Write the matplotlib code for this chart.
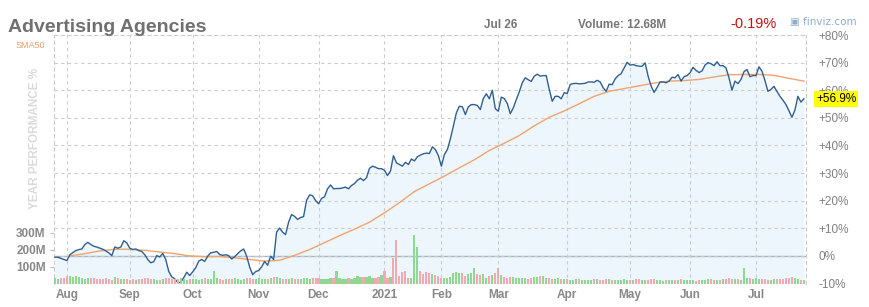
import numpy as np
import pandas as pd
import matplotlib
matplotlib.use("Agg")
import matplotlib.pyplot as plt
import matplotlib.transforms as mtransforms

plt.rcParams['font.family'] = ['Liberation Sans', 'DejaVu Sans']

# trading days shown (Jul 28 2020 - Jul 26 2021)
holidays = ["2020-09-07", "2020-11-26", "2020-12-25", "2021-01-01", "2021-01-18",
            "2021-02-15", "2021-04-02", "2021-05-31", "2021-07-05"]
dates = pd.bdate_range("2020-07-28", "2021-07-26")
dates = dates[~dates.isin(pd.to_datetime(holidays))]

# year performance in %, one value per trading day
perf = [
    -0.5, -0.5, -0.9, -1.3,                                             # Jul
    -1.7, 0.4, 1.2, 1.9, 2.3, 2.5, 4.1, 4.9, 4.1, 3.5,                  # Aug
    3.2, 2.8, 2.4, 1.8, 1.1, 0.1, 3.2, 2.8, 3.2, 5.5, 4.7,
    2.8, 2.3, 2.5, 1.9, 1.6, 0.4, -1.3, -2.5, -2.1, 0.1,                # Sep
    -0.4, 0.9, -1.3, -5.6, -7.6, -8.3, -9.6, -9.6, -7.9, -5.9, -7.1,
    -5.8, -4.3, -1.9, -1.3, -2.0, -0.1, 1.1, 1.3, 1.6, 0.5,             # Oct
    0.2, 0.4, 0.1, -1.1, -0.3, 0.8, 1.8, 2.5, -0.1, -4.0, -6.8, -5.7,
    -5.3, -4.0, -2.0, -3.4, -0.1, -1.3, 8.6, 10.1, 8.6, 7.7,            # Nov
    12.2, 15.0, 14.3, 13.2, 13.9, 14.2, 20.1, 22.1, 21.8, 20.1,
    18.9, 20.8, 21.4, 24.3, 25.7, 24.3, 24.4, 24.4, 24.6, 24.9, 24.3,   # Dec
    25.5, 26.2, 27.4, 28.1, 27.3, 28.3, 31.7, 32.5, 32.1, 31.6, 31.6,
    31.0, 29.1, 30.7, 36.3, 33.7, 33.1, 32.5, 33.9, 33.1, 35.1,         # Jan
    34.4, 35.9, 36.5, 37.0, 37.2, 37.1, 39.5, 38.5, 36.3,
    32.5, 36.7, 38.5, 42.4, 47.0, 51.8, 54.2, 54.0, 51.2, 54.0,         # Feb
    54.8, 54.8, 54.5, 53.0, 57.0, 58.7, 56.9, 60.0, 53.3,
    52.4, 57.5, 57.0, 55.2, 51.5, 53.6, 56.6, 59.4, 62.7, 64.5, 63.8,   # Mar
    63.2, 65.1, 65.8, 65.1, 65.3, 65.3, 60.3, 56.0, 57.8, 57.8, 56.9, 59.1,
    58.8, 62.1, 62.4, 62.5, 62.3, 62.4, 62.5, 63.0, 63.0, 62.9, 63.6,   # Apr
    63.0, 60.9, 59.6, 62.2, 62.0, 64.1, 65.3, 66.0, 68.1, 70.1,
    69.1, 69.3, 68.9, 68.7, 68.7, 69.9, 65.1, 61.5, 59.2, 61.0,         # May
    63.0, 63.0, 62.7, 63.3, 64.7, 64.5, 65.7, 63.3, 64.9, 65.3,
    66.3, 68.3, 67.2, 66.4, 67.0, 69.1, 70.0, 69.6, 68.9, 70.3, 68.9,   # Jun
    68.9, 68.1, 64.5, 60.0, 63.3, 62.4, 63.9, 66.7, 67.5, 64.9, 65.3,
    65.3, 68.5, 66.9, 63.5, 59.6, 60.3, 61.4, 59.6, 57.8, 56.4, 54.8,   # Jul
    52.6, 50.2, 52.8, 57.8, 55.7, 56.9,
]

# SMA50 read every 5th trading day, starting with the 6th
sma50 = [0.0, 0.8, 1.8, 2.4, 2.4, 2.0, 1.4, 0.8, 0.0, -0.3,
         -0.2, -0.7, -1.3, -1.9, -1.6, 0.2, 2.3, 4.8, 7.3, 9.7,
         12.2, 15.6, 19.3, 23.3, 26.1, 28.9, 31.9, 34.8, 38.2, 40.8,
         43.6, 47.1, 50.2, 52.5, 55.1, 57.8, 59.6, 60.6, 61.6, 62.6,
         63.3, 63.5, 63.9, 64.8, 65.6, 65.7, 65.7, 65.4, 64.3, 63.3]

# daily volume in millions
volume = [
    30, 28, 32, 35,
    42, 45, 40, 44, 38, 30, 28, 32, 35, 30, 26, 24, 28, 30, 25, 22, 38, 30, 26, 28, 24,
    22, 24, 20, 26, 28, 30, 32, 26, 24, 22, 20, 28, 32, 30, 26, 24, 28, 30, 26, 22, 24,
    28, 24, 22, 26, 30, 24, 26, 75, 30, 24, 22, 26, 28, 24, 30, 26, 22, 28, 32, 30, 26, 28,
    30, 28, 26, 24, 30, 40, 36, 30, 28, 26, 24, 30, 28, 26, 24, 30, 35, 28, 30, 32,
    30, 26, 28, 24, 30, 32, 72, 34, 28, 26, 30, 28, 32, 45, 40, 36, 38, 44, 30, 34, 40, 48,
    72, 30, 40, 152, 260, 42, 70, 72, 30, 35, 286, 218, 75, 57, 67, 60, 55, 50, 45,
    35, 30, 35, 40, 62, 68, 65, 60, 45, 55, 62, 90, 55, 50, 55, 35, 45, 50, 60,
    90, 50, 40, 35, 38, 40, 30, 35, 32, 30, 28, 35, 38, 40, 45, 42, 35, 30, 28, 25, 30, 28, 25,
    25, 22, 20, 24, 28, 22, 20, 18, 22, 25, 24, 20, 22, 26, 24, 20, 22, 18, 20, 24, 22,
    20, 22, 25, 24, 20, 18, 22, 26, 24, 20, 18, 16, 18, 20, 22, 18, 20, 24, 22, 20,
    18, 20, 16, 18, 22, 20, 24, 26, 22, 20, 18, 24, 28, 32, 26, 24, 28, 22, 92, 30, 34, 28,
    30, 26, 24, 28, 22, 20, 24, 26, 28, 24, 30, 35, 38, 32, 28, 22, 20,
]
# days where the bar colour differs from the close-to-close move
bar_dir = {53: 'u', 94: 'u', 110: 'd', 113: 'd', 114: 'd', 116: 'd', 117: 'd',
           120: 'u', 121: 'u', 122: 'd', 123: 'd', 124: 'd', 125: 'd', 127: 'd',
           128: 'd', 140: 'u', 148: 'd', 230: 'u'}

x = np.arange(len(dates))
perf = np.array(perf)
volume = np.array(volume)

up = np.r_[True, np.diff(perf) >= 0]
for k, d in bar_dir.items():
    up[k] = d == 'u'
bar_colors = np.where(up, '#90d890', '#f2aab2')

# month ticks
month_idx = [i for i in range(1, len(dates)) if dates[i].month != dates[i - 1].month]
month_lab = [str(dates[i].year) if dates[i].month == 1 else dates[i].strftime('%b') for i in month_idx]

W, H = 869, 307
fig = plt.figure(figsize=(W / 100, H / 100), dpi=100)
ax = fig.add_axes([54 / W, 23.5 / H, 752 / W, 248.5 / H])
axv = ax.twinx()

grid_kw = dict(color='#cccccc', linestyle=(0, (3, 3)), linewidth=0.8)
ax.fill_between(x, perf, -10, color='#edf6fd', lw=0)
ax.axhline(0, color='#aab4c2', lw=1, zorder=1)
ax.plot(x[5::5], sma50, color='#f0a46c', lw=1, zorder=3)
ax.plot(x, perf, color='#2f5f91', lw=1, zorder=4)

ax.set_xlim(-0.3, len(dates) - 0.3)
ax.set_ylim(-10, 80)
ax.set_yticks(range(-10, 81, 10))
ax.set_yticklabels([f'+{v}%' if v > 0 else f'{v}%' for v in range(-10, 81, 10)])
ax.yaxis.tick_right()
ax.tick_params(axis='y', length=0, pad=9, labelsize=8.5, labelcolor='#808080')
ax.set_xticks(month_idx)
ax.set_xticklabels(month_lab)
ax.tick_params(axis='x', length=0, pad=4, labelsize=8.5, labelcolor='#888888')
for t in ax.get_xticklabels():
    t.set_fontweight('bold')
ax.grid(True, **grid_kw)
for s in ['left', 'right', 'top']:
    ax.spines[s].set_color('#cccccc')
    ax.spines[s].set_linestyle((0, (3, 3)))
    ax.spines[s].set_linewidth(0.8)
ax.spines['bottom'].set_visible(False)

# current value marker
trans = mtransforms.blended_transform_factory(ax.transAxes, ax.transData)
ax.text(1 + 10 / 752, perf[-1], f'+{perf[-1]:.1f}%', transform=trans, ha='left', va='center',
        fontsize=8.5, color='black', zorder=10, clip_on=False,
        bbox=dict(facecolor='#ffff00', edgecolor='none', pad=1.4))

# volume on the twin axis
axv.bar(x, volume, width=0.7, color=bar_colors, lw=0)
axv.set_ylim(0, 1476)
axv.set_xlim(ax.get_xlim())
axv.yaxis.tick_left()
axv.set_yticks([100, 200, 300])
axv.set_yticklabels(['100M', '200M', '300M'])
axv.tick_params(axis='y', length=3, color='#bbbbbb', pad=3, labelsize=8.5, labelcolor='#888888')
for t in axv.get_yticklabels():
    t.set_fontweight('bold')
for s in axv.spines.values():
    s.set_visible(False)

# header texts
def ftext(px, py, s, **kw):
    fig.text(px / W, 1 - py / H, s, **kw)

ftext(8, 32, 'Advertising Agencies', fontsize=14, fontweight='bold', color='#707070', va='baseline')
ftext(16, 48, 'SMA50', fontsize=6.5, color='#ee9e64', va='baseline')
ftext(517, 28, 'Jul 26', fontsize=8.5, fontweight='bold', color='#777777', ha='right', va='baseline')
ftext(578, 28, 'Volume: 12.68M', fontsize=8.5, fontweight='bold', color='#777777', va='baseline')
ftext(730, 28, '-0.19%', fontsize=10.5, color='#c41010', va='baseline')
ftext(790, 25, '▣ finviz.com', fontsize=7.5, color='#8eaccb', va='baseline',
      family=['DejaVu Sans'])
ftext(35, 138, 'YEAR PERFORMANCE %', fontsize=8.5, fontweight='bold', color='#dadada',
      rotation=90, ha='center', va='center')

fig.savefig('out.png', dpi=100)
